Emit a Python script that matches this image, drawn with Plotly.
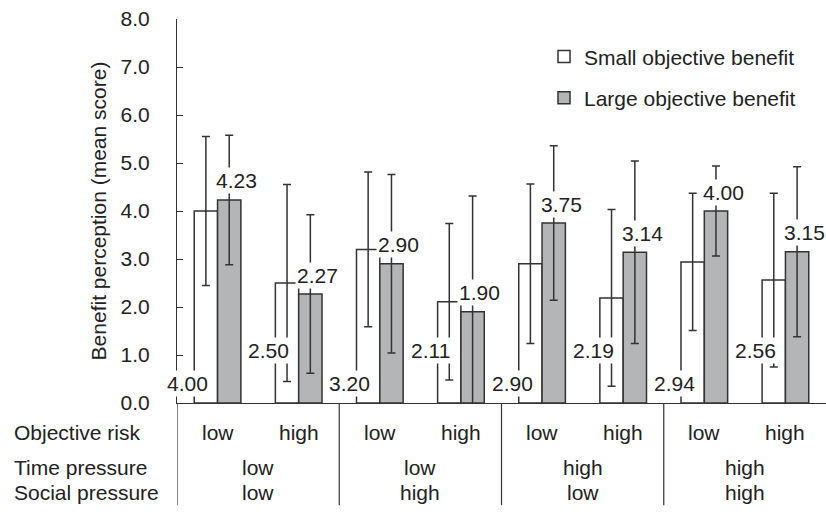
import plotly.graph_objects as go

# Condition levels for each of the eight bar pairs
objective_risk = ["low", "high", "low", "high", "low", "high", "low", "high"]
time_pressure = ["low", "low", "high", "high"]
social_pressure = ["low", "high", "low", "high"]

# Mean benefit perception and standard deviations
small_mean = [4.00, 2.50, 3.20, 2.11, 2.90, 2.19, 2.94, 2.56]
small_sd = [1.55, 2.05, 1.61, 1.63, 1.66, 1.84, 1.43, 1.81]
large_mean = [4.23, 2.27, 2.90, 1.90, 3.75, 3.14, 4.00, 3.15]
large_sd = [1.35, 1.65, 1.86, 2.41, 1.61, 1.90, 0.94, 1.77]

series_names = ["Small objective benefit", "Large objective benefit"]
y_ticks = [0, 1, 2, 3, 4, 5, 6, 7, 8]

FONT = "Liberation Sans, Arial, Helvetica, sans-serif"
INK = "#222222"
LINE = "#333333"
FS = 21

x_pos = list(range(len(objective_risk)))

fig = go.Figure()
for name, means, sds, fill, grp in [
    (series_names[0], small_mean, small_sd, "#ffffff", "a"),
    (series_names[1], large_mean, large_sd, "#b4b5b7", "b"),
]:
    fig.add_trace(go.Bar(
        x=x_pos, y=means, name=name, legendgroup=grp,
        marker=dict(color=fill, line=dict(color=LINE, width=1.5)),
        error_y=dict(type="data", array=sds, symmetric=True,
                     color=LINE, thickness=1.5, width=4),
    ))

annotations = []
# value labels: small-benefit labels sit low beside the white bar,
# large-benefit labels sit above the grey bar
for i, (s, l) in enumerate(zip(small_mean, large_mean)):
    low_shift = 20 if objective_risk[i] == "low" else 53
    annotations.append(dict(
        x=i, y=0, xref="x", yref="y", text=f"{s:.2f}", showarrow=False,
        xshift=-30, yshift=low_shift, bgcolor="white", borderpad=1,
        yanchor="middle", font=dict(family=FONT, size=FS, color=INK)))
    annotations.append(dict(
        x=i, y=l, xref="x", yref="y", text=f"{l:.2f}", showarrow=False,
        xshift=19, yshift=19, bgcolor="white", borderpad=1,
        yanchor="middle", font=dict(family=FONT, size=FS, color=INK)))

# table under the axis
row_labels = ["Objective risk", "Time pressure", "Social pressure"]
row_offsets = [-29, -64, -89]
for lab, off in zip(row_labels, row_offsets):
    annotations.append(dict(
        x=0, y=0, xref="paper", yref="paper", text=lab, showarrow=False,
        xanchor="left", yanchor="middle", xshift=-165, yshift=off,
        font=dict(family=FONT, size=FS, color=INK)))

for i, r in enumerate(objective_risk):
    annotations.append(dict(
        x=i, y=0, xref="x", yref="paper", text=r, showarrow=False,
        yanchor="middle", yshift=row_offsets[0],
        font=dict(family=FONT, size=FS, color=INK)))

for g, (tp, sp) in enumerate(zip(time_pressure, social_pressure)):
    for txt, off in [(tp, row_offsets[1]), (sp, row_offsets[2])]:
        annotations.append(dict(
            x=2 * g + 0.5, y=0, xref="x", yref="paper", text=txt,
            showarrow=False, yanchor="middle", yshift=off,
            font=dict(family=FONT, size=FS, color=INK)))

shapes = []
for xs in [-0.5, 1.5, 3.5, 5.5]:
    shapes.append(dict(type="line", xref="x", yref="paper", x0=xs, x1=xs,
                       y0=0, y1=-0.266, line=dict(color=LINE, width=1.2)))

fig.update_layout(
    width=826, height=515,
    margin=dict(l=177, r=0, t=19, b=112, pad=0),
    paper_bgcolor="white", plot_bgcolor="white",
    barmode="group", bargap=0.425, bargroupgap=0,
    font=dict(family=FONT, size=FS, color=INK),
    showlegend=True,
    legend=dict(x=0.5655, y=0.955, xanchor="left", yanchor="top",
                traceorder="grouped", tracegroupgap=11,
                bgcolor="rgba(0,0,0,0)",
                font=dict(family=FONT, size=FS, color=INK)),
    annotations=annotations,
    shapes=shapes,
)
fig.update_xaxes(range=[-0.5, 7.5], showticklabels=False, ticks="",
                 showgrid=False, zeroline=False, showline=True,
                 linecolor=LINE, linewidth=1.2)
fig.update_yaxes(range=[0, 8], tickvals=y_ticks,
                 ticktext=[f"{v:.1f}" for v in y_ticks],
                 ticks="inside", ticklen=6, tickcolor=LINE, tickwidth=1.2,
                 ticklabelstandoff=22,
                 showgrid=False, zeroline=False, showline=True,
                 linecolor=LINE, linewidth=1.2,
                 title=dict(text="Benefit perception (mean score)",
                            standoff=8,
                            font=dict(family=FONT, size=FS, color=INK)))

fig.write_html("out.html")
